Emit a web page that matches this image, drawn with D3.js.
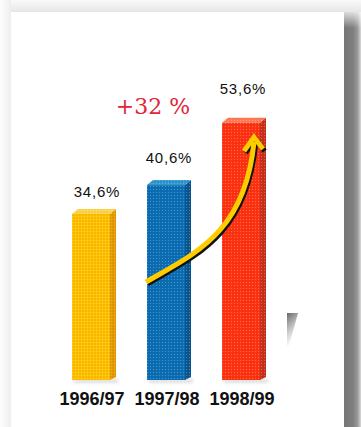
<!DOCTYPE html>
<html>
<head>
<meta charset="utf-8">
<script src="https://cdn.jsdelivr.net/npm/d3@7"></script>
<style>
  html, body { margin: 0; padding: 0; background: #fff; }
  svg { display: block; }
</style>
</head>
<body>
<svg id="chart" width="361" height="427"></svg>
<script>
// Share of sales, three financial years
const categories = ["1996/97", "1997/98", "1998/99"];
const values = [34.6, 40.6, 53.6];
const valueLabels = ["34,6%", "40,6%", "53,6%"];
const growthLabel = "+32 %";

// Bar face colours: front, side, top
const frontColors = ["#ffc000", "#0b6db3", "#ff3311"];
const sideColors = ["#e59a00", "#0a5690", "#c9301a"];
const topColors = ["#ffd34a", "#2f97cf", "#ff7a55"];

// Hand placement of the value labels above each bar (dx, lift)
const labelDx = [6, 3, 2];
const labelLift = [17, 22, 29];

const W = 361, H = 427;
const svg = d3.select("#chart");
const defs = svg.append("defs");

// ---- page card with drop shadow ----
const gTop = defs.append("linearGradient").attr("id", "gTop")
  .attr("x1", 0).attr("y1", 0).attr("x2", 0).attr("y2", 1);
gTop.append("stop").attr("offset", 0).attr("stop-color", "#fafafa");
gTop.append("stop").attr("offset", 1).attr("stop-color", "#e6e6e6");
const gLeft = defs.append("linearGradient").attr("id", "gLeft")
  .attr("x1", 0).attr("y1", 0).attr("x2", 1).attr("y2", 0);
gLeft.append("stop").attr("offset", 0).attr("stop-color", "#fdfdfd");
gLeft.append("stop").attr("offset", 1).attr("stop-color", "#eeeeee");
const gRight = defs.append("linearGradient").attr("id", "gRight")
  .attr("x1", 0).attr("y1", 0).attr("x2", 1).attr("y2", 0);
gRight.append("stop").attr("offset", 0).attr("stop-color", "#767676");
gRight.append("stop").attr("offset", 0.55).attr("stop-color", "#808080");
gRight.append("stop").attr("offset", 0.8).attr("stop-color", "#9a9a9a");
gRight.append("stop").attr("offset", 1).attr("stop-color", "#d8d8d8");
const gRightTop = defs.append("linearGradient").attr("id", "gRightTop")
  .attr("x1", 0).attr("y1", 0).attr("x2", 0).attr("y2", 1);
gRightTop.append("stop").attr("offset", 0).attr("stop-color", "#fff").attr("stop-opacity", 0.75);
gRightTop.append("stop").attr("offset", 1).attr("stop-color", "#fff").attr("stop-opacity", 0);

svg.append("rect").attr("x", 0).attr("y", 0).attr("width", W).attr("height", 12).attr("fill", "url(#gTop)");
svg.append("rect").attr("x", 0).attr("y", 0).attr("width", 11).attr("height", H).attr("fill", "url(#gLeft)");
svg.append("rect").attr("x", 344).attr("y", 12).attr("width", W - 344).attr("height", H - 12).attr("fill", "url(#gRight)");
svg.append("rect").attr("x", 344).attr("y", 12).attr("width", W - 344).attr("height", 16).attr("fill", "url(#gRightTop)");
svg.append("rect").attr("x", 11).attr("y", 12).attr("width", 333).attr("height", H - 12).attr("fill", "#fff");

// ---- scales ----
const x = d3.scalePoint().domain(categories).range([91, 241]);
const y = d3.scaleLinear().domain([0, 55]).range([380, 116]);

const frontW = 38, depthX = 6, depthY = 5;

// dotted screen texture laid over every face
const pat = defs.append("pattern").attr("id", "dots")
  .attr("patternUnits", "userSpaceOnUse").attr("width", 3).attr("height", 3);
pat.append("rect").attr("x", 0).attr("y", 0).attr("width", 1).attr("height", 1)
  .attr("fill", "#fff").attr("fill-opacity", 0.25);
pat.append("rect").attr("x", 1.5).attr("y", 1.5).attr("width", 1).attr("height", 1)
  .attr("fill", "#000").attr("fill-opacity", 0.14);

const blur = defs.append("filter").attr("id", "soft").attr("x", -0.2).attr("y", -2).attr("width", 1.4).attr("height", 5);
blur.append("feGaussianBlur").attr("stdDeviation", 1.5);

const data = categories.map((c, i) => ({ c, v: values[i], label: valueLabels[i], i }));

const bars = svg.append("g").selectAll("g").data(data).join("g");

// ground shadow
bars.append("rect")
  .attr("x", d => x(d.c) - frontW / 2 + 2)
  .attr("y", y(0) - 1)
  .attr("width", frontW + depthX)
  .attr("height", 4)
  .attr("fill", "#000").attr("fill-opacity", 0.12)
  .attr("filter", "url(#soft)");

// front face
bars.append("rect")
  .attr("x", d => x(d.c) - frontW / 2)
  .attr("y", d => y(d.v))
  .attr("width", frontW)
  .attr("height", d => y(0) - y(d.v))
  .attr("fill", d => frontColors[d.i]);

// side face
bars.append("path")
  .attr("d", d => {
    const x1 = x(d.c) + frontW / 2, yt = y(d.v), yb = y(0);
    return `M${x1},${yt}L${x1 + depthX},${yt - depthY}L${x1 + depthX},${yb - depthY + 2}L${x1},${yb}Z`;
  })
  .attr("fill", d => sideColors[d.i]);

// top face
bars.append("path")
  .attr("d", d => {
    const x0 = x(d.c) - frontW / 2, x1 = x0 + frontW, yt = y(d.v);
    return `M${x0},${yt}L${x0 + depthX},${yt - depthY}L${x1 + depthX},${yt - depthY}L${x1},${yt}Z`;
  })
  .attr("fill", d => topColors[d.i]);

// texture overlay over the whole block
bars.append("path")
  .attr("d", d => {
    const x0 = x(d.c) - frontW / 2, x1 = x0 + frontW, yt = y(d.v), yb = y(0);
    return `M${x0},${yt}L${x0 + depthX},${yt - depthY}L${x1 + depthX},${yt - depthY}L${x1 + depthX},${yb - depthY + 2}L${x1},${yb}L${x0},${yb}Z`;
  })
  .attr("fill", "url(#dots)");

// value labels
bars.append("text")
  .attr("x", d => x(d.c) + labelDx[d.i])
  .attr("y", d => y(d.v) - labelLift[d.i])
  .attr("text-anchor", "middle")
  .attr("font-family", "Liberation Sans, Arial, sans-serif")
  .attr("font-size", 15)
  .attr("letter-spacing", 0.8)
  .attr("fill", "#111")
  .text(d => d.label);

// category labels
svg.append("g").selectAll("text").data(categories).join("text")
  .attr("x", d => x(d) + 1)
  .attr("y", 405)
  .attr("text-anchor", "middle")
  .attr("font-family", "Liberation Sans, Arial, sans-serif")
  .attr("font-weight", "bold")
  .attr("font-size", 18)
  .attr("fill", "#111")
  .text(d => d);

// growth arrow from the second bar up to the third
const xb = x(categories[1]), xr = x(categories[2]);
const p0 = [xb - 20, y(20.4)], p1 = [xb + 27, y(26.2)],
      p2 = [xr + 4, y(30.4)], p3 = [xr + 13, y(49.6)];
const tip = [xr + 13, y(50.6)];
const curve = `M${p0}C${p1} ${p2} ${p3}`;
const head = `M${tip[0] - 10},${tip[1] + 14}L${tip[0]},${tip[1]}L${tip[0] + 9},${tip[1] + 12}`;

const arrow = svg.append("g").attr("fill", "none").attr("stroke-linecap", "butt");
arrow.append("path").attr("d", curve).attr("transform", "translate(1.6,1.8)")
  .attr("stroke", "#111").attr("stroke-width", 5);
arrow.append("path").attr("d", head).attr("transform", "translate(1.6,1.8)")
  .attr("stroke", "#111").attr("stroke-width", 5).attr("stroke-linejoin", "miter");
arrow.append("path").attr("d", curve).attr("stroke", "#ffcc00").attr("stroke-width", 5);
arrow.append("path").attr("d", head).attr("stroke", "#ffcc00").attr("stroke-width", 5)
  .attr("stroke-linejoin", "miter");

// growth label
svg.append("text")
  .attr("x", 153)
  .attr("y", 114)
  .attr("text-anchor", "middle")
  .attr("font-family", "DejaVu Serif, serif")
  .attr("font-size", 22)
  .attr("fill", "#e3243a")
  .text(growthLabel);

// small grey smudge to the right of the bars
const gSm = defs.append("linearGradient").attr("id", "gSmudge")
  .attr("x1", 0).attr("y1", 0).attr("x2", 0.3).attr("y2", 1);
gSm.append("stop").attr("offset", 0).attr("stop-color", "#555").attr("stop-opacity", 0.9);
gSm.append("stop").attr("offset", 1).attr("stop-color", "#999").attr("stop-opacity", 0);
svg.append("path")
  .attr("d", "M287,313L298,313L289,346L287,346Z")
  .attr("fill", "url(#gSmudge)");
</script>
</body>
</html>
